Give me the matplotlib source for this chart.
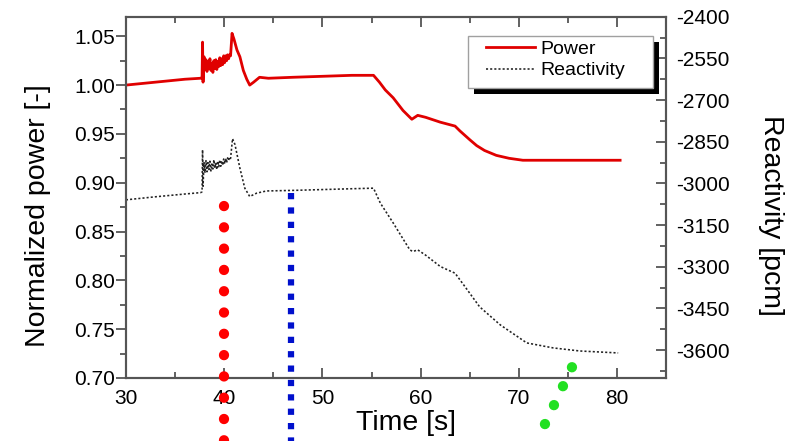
import matplotlib
matplotlib.use('Agg')
import matplotlib.pyplot as plt
from matplotlib.ticker import MultipleLocator
from matplotlib.patches import Rectangle

plt.rcParams['font.family'] = ['Liberation Sans', 'DejaVu Sans']
plt.rcParams['axes.unicode_minus'] = False

# power trace (normalized)
t_power = [30.0, 33.0, 36.0, 37.6, 37.75, 37.8, 37.85, 37.95, 38.05, 38.15,
           38.25, 38.35, 38.45, 38.55, 38.65, 38.75, 38.85, 38.95, 39.05, 39.15,
           39.25, 39.35, 39.45, 39.55, 39.65, 39.75, 39.85, 39.95, 40.05, 40.15,
           40.25, 40.35, 40.45, 40.55, 40.65, 40.8, 41.0, 41.3, 41.6, 41.95,
           42.3, 42.6, 43.0, 43.6, 44.5, 47.0, 50.0, 53.0, 55.2, 55.8,
           56.4, 57.2, 58.2, 59.1, 59.7, 60.5, 62.0, 63.5, 64.0, 65.0,
           65.7, 66.5, 67.7, 69.0, 70.4, 75.0, 80.3]
power = [1.000, 1.003, 1.006, 1.007, 1.0075, 1.044, 1.003, 1.029, 1.016, 1.026,
         1.014, 1.024, 1.017, 1.027, 1.015, 1.022, 1.013, 1.025, 1.017, 1.026,
         1.016, 1.024, 1.019, 1.028, 1.020, 1.027, 1.021, 1.030, 1.023, 1.030,
         1.025, 1.031, 1.027, 1.031, 1.030, 1.053, 1.047, 1.036, 1.029, 1.015,
         1.006, 1.000, 1.003, 1.008, 1.007, 1.008, 1.009, 1.010, 1.010, 1.003,
         0.995, 0.987, 0.974, 0.965, 0.969, 0.967, 0.962, 0.958, 0.953, 0.944,
         0.938, 0.933, 0.928, 0.925, 0.923, 0.923, 0.923]

# reactivity trace [pcm]
t_react = [30.0, 33.0, 36.0, 37.6, 37.75, 37.8, 37.85, 37.95, 38.05, 38.15,
           38.25, 38.35, 38.45, 38.55, 38.65, 38.75, 38.85, 38.95, 39.05, 39.15,
           39.25, 39.35, 39.45, 39.55, 39.65, 39.75, 39.85, 39.95, 40.05, 40.15,
           40.25, 40.35, 40.45, 40.55, 40.65, 40.85, 41.1, 41.6, 42.1, 42.6,
           43.3, 44.3, 47.0, 50.0, 53.0, 55.2, 55.9, 57.2, 58.3, 58.9,
           59.2, 59.7, 60.5, 62.0, 63.5, 64.5, 66.0, 68.1, 70.8, 73.5,
           76.2, 80.1]
reactivity = [-3059, -3048, -3038, -3033, -3030, -2879, -3010, -2925, -2962, -2918,
              -2958, -2925, -2950, -2920, -2955, -2930, -2948, -2915, -2945, -2925,
              -2950, -2920, -2940, -2915, -2938, -2918, -2935, -2912, -2930, -2910,
              -2925, -2908, -2918, -2905, -2910, -2839, -2860, -2945, -3017, -3047,
              -3035, -3027, -3025, -3022, -3019, -3017, -3071, -3142, -3205, -3239,
              -3245, -3239, -3258, -3299, -3323, -3371, -3444, -3509, -3574, -3592,
              -3603, -3610]

# overlaid marker lines (time, normalized power), run past the frame
red_x = [40.0, 40.0]
red_y = [0.876, 0.60]
blue_x = [46.8, 46.8]
blue_y = [0.889, 0.60]
green_x = [75.4, 71.2]
green_y = [0.711, 0.622]

fig = plt.figure(figsize=(7.97, 4.41), dpi=100)
ax = fig.add_axes([0.158, 0.143, 0.678, 0.819])
ax2 = ax.twinx()

spine_col = '#555555'
for a in (ax, ax2):
    for s in a.spines.values():
        s.set_color(spine_col)
        s.set_linewidth(1.5)

l1, = ax.plot(t_power, power, color='#e00000', lw=2.0, label='Power')
l2, = ax2.plot(t_react, reactivity, color='#222222', lw=1.15,
               linestyle=(0, (1.3, 1.3)), label='Reactivity')

ax.set_xlim(30, 85)
ax.set_ylim(0.70, 1.07)
ax2.set_ylim(-3700, -2400)

ax.xaxis.set_major_locator(MultipleLocator(10))
ax.xaxis.set_minor_locator(MultipleLocator(5))
ax.yaxis.set_major_locator(MultipleLocator(0.05))
ax.yaxis.set_minor_locator(MultipleLocator(0.025))
ax.yaxis.set_major_formatter(plt.FormatStrFormatter('%.2f'))
ax2.yaxis.set_major_locator(MultipleLocator(150))
ax2.yaxis.set_minor_locator(MultipleLocator(75))

ax.tick_params(axis='x', which='both', direction='in', top=True, color=spine_col,
               labelsize=15, pad=8, width=1.3)
ax.tick_params(axis='x', which='major', length=7)
ax.tick_params(axis='x', which='minor', length=4)
ax.tick_params(axis='y', which='both', direction='out', color=spine_col,
               labelsize=15, pad=1, width=1.3)
ax.tick_params(axis='y', which='major', length=7)
ax.tick_params(axis='y', which='minor', length=4)
ax2.tick_params(axis='y', which='both', direction='in', color=spine_col,
                labelsize=15, pad=7, width=1.3)
ax2.tick_params(axis='y', which='major', length=7)
ax2.tick_params(axis='y', which='minor', length=4)

ax.set_xlabel('Time [s]', fontsize=20.5, va='center')
ax.xaxis.set_label_coords(0.519, -0.125)
ax.set_ylabel('Normalized power [-]', fontsize=20.5, va='center')
ax.yaxis.set_label_coords(-0.163, 0.449)
ax2.set_ylabel('Reactivity [pcm]', fontsize=20.5, rotation=270, va='center')
ax2.yaxis.set_label_coords(1.193, 0.449)

# dotted marker lines drawn on top, outside the frame too
ax2.plot(red_x, red_y, transform=ax.transData, color='#ff0000', lw=7.4,
         linestyle=(0, (0.01, 2.062)), dash_capstyle='round', clip_on=False, zorder=6)
ax2.plot(blue_x, blue_y, transform=ax.transData, color='#0010cc', lw=4.5,
         linestyle=(0, (1.0, 1.3)), dash_capstyle='butt', clip_on=False, zorder=6)
ax2.plot(green_x, green_y, transform=ax.transData, color='#22e022', lw=7.4,
         linestyle=(0, (0.01, 2.03)), dash_capstyle='round', clip_on=False, zorder=6)

# legend box with a hard black drop shadow
box_x0, box_y0, box_w, box_h = 0.633, 0.803, 0.343, 0.144
ax2.add_patch(Rectangle((box_x0 + 0.011, box_y0 - 0.017), box_w, box_h,
                        transform=ax2.transAxes, facecolor='black', edgecolor='none',
                        zorder=4.7, clip_on=False))
ax2.add_patch(Rectangle((box_x0, box_y0), box_w, box_h, transform=ax2.transAxes,
                        facecolor='white', edgecolor='#a0a0a0', lw=1.0, zorder=4.8,
                        clip_on=False))
leg = ax2.legend(handles=[l1, l2], loc='upper left', bbox_to_anchor=(0.667, 0.935),
                 borderaxespad=0, borderpad=0, frameon=False, fontsize=14,
                 handlelength=2.5, handletextpad=0.3, labelspacing=0.2)
leg.set_zorder(5)

fig.savefig('out.png', dpi=100)
